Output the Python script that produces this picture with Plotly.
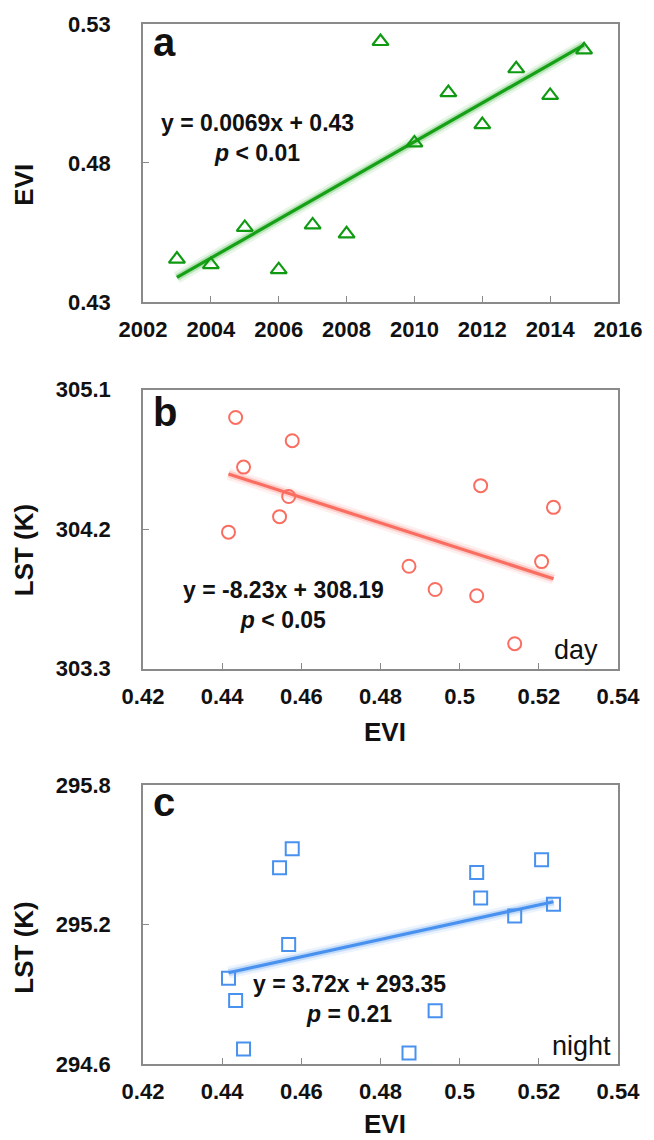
import numpy as np
import plotly.graph_objects as go

# ---------------- data ----------------
years = [2003, 2004, 2005, 2006, 2007, 2008, 2009, 2010, 2011, 2012, 2013, 2014, 2015]
evi = [0.4454, 0.4434, 0.4568, 0.4416, 0.4577, 0.4545, 0.5237, 0.4872, 0.5053, 0.4938, 0.5139, 0.5043, 0.5207]
lst_day = [304.60, 304.92, 304.41, 304.18, 304.77, 304.28, 304.34, 303.96, 304.48, 303.81, 303.46, 303.77, 303.99]
lst_night = [294.664, 294.873, 295.114, 294.969, 295.526, 295.444, 295.287, 294.647, 295.314, 294.829, 295.237, 295.424, 295.479]

day_slope, day_intercept = -8.23, 308.19
night_slope, night_intercept = 3.72, 293.35

eq_a = "y = 0.0069x + 0.43"
p_a = "p &lt; 0.01"
eq_b = "y = -8.23x + 308.19"
p_b = "p &lt; 0.05"
eq_c = "y = 3.72x + 293.35"
p_c = "p = 0.21"

evi_ticks = [0.42, 0.44, 0.46, 0.48, 0.50, 0.52, 0.54]
evi_ticktext = ["0.42", "0.44", "0.46", "0.48", "0.5", "0.52", "0.54"]
year_ticks = [2002, 2004, 2006, 2008, 2010, 2012, 2014, 2016]
a_yticks = [0.43, 0.48, 0.53]
b_yticks = [303.3, 304.2, 305.1]
c_yticks = [294.6, 295.2, 295.8]

# ---------------- layout geometry ----------------
W, H = 654, 1140
ML, MR, MT, MB = 143, 27, 20, 76
PW = W - ML - MR
PH = H - MT - MB


def px(x):
    return (x - ML) / PW


def py(y):
    return (H - MB - y) / PH


dom_a = [py(299), py(20)]
dom_b = [py(667), py(387)]
dom_c = [py(1064), py(784)]

GREEN = "#0f9a12"
SALMON = "#fa6e62"
BLUE = "#4891ee"
AX = "#8a8a8a"
FONT = "Liberation Sans, Arial, sans-serif"

fig = go.Figure()


def add_fit(xs, ys, xref, yref, color, glow):
    for w, op in [(12, 0.10), (7, 0.25)]:
        fig.add_trace(go.Scatter(x=xs, y=ys, mode="lines", xaxis=xref, yaxis=yref,
                                 line=dict(color=glow, width=w), opacity=op,
                                 showlegend=False, hoverinfo="skip"))
    fig.add_trace(go.Scatter(x=xs, y=ys, mode="lines", xaxis=xref, yaxis=yref,
                             line=dict(color=color, width=3.2),
                             showlegend=False, hoverinfo="skip"))


# panel a
ka, ba = np.polyfit(years, evi, 1)
xa = np.array([min(years), max(years)])
add_fit(xa, ka * xa + ba, "x", "y", "#16a016", "#22aa22")
fig.add_trace(go.Scatter(x=years, y=evi, mode="markers", xaxis="x", yaxis="y",
                         marker=dict(symbol="triangle-up-open", size=14, color=GREEN,
                                     line=dict(width=2.2, color=GREEN)),
                         showlegend=False))

# panel b
xb = np.array([min(evi), max(evi)])
add_fit(xb, day_slope * xb + day_intercept, "x2", "y2", SALMON, SALMON)
fig.add_trace(go.Scatter(x=evi, y=lst_day, mode="markers", xaxis="x2", yaxis="y2",
                         marker=dict(symbol="circle-open", size=13, color=SALMON,
                                     line=dict(width=2, color=SALMON)),
                         showlegend=False))

# panel c
add_fit(xb, night_slope * xb + night_intercept, "x3", "y3", BLUE, BLUE)
fig.add_trace(go.Scatter(x=evi, y=lst_night, mode="markers", xaxis="x3", yaxis="y3",
                         marker=dict(symbol="square-open", size=13, color=BLUE,
                                     line=dict(width=2, color=BLUE)),
                         showlegend=False))

tickfont = dict(family=FONT, size=22, color="#111", weight="bold")
common = dict(showline=True, mirror=True, linecolor=AX, linewidth=1.5,
              ticks="inside", ticklen=6, tickcolor=AX, tickwidth=1.2,
              showgrid=False, zeroline=False, tickfont=tickfont)

fig.update_layout(
    width=W, height=H, margin=dict(l=ML, r=MR, t=MT, b=MB),
    paper_bgcolor="white", plot_bgcolor="white",
    xaxis=dict(domain=[0, 1], anchor="y", range=[2002, 2016], tickvals=year_ticks,
               ticklabelstandoff=7, **common),
    yaxis=dict(domain=dom_a, anchor="x", range=[0.43, 0.53], tickvals=a_yticks,
               ticktext=["%.2f" % v for v in a_yticks], ticklabelstandoff=26, **common),
    xaxis2=dict(domain=[0, 1], anchor="y2", range=[0.42, 0.54], tickvals=evi_ticks,
                ticktext=evi_ticktext, ticklabelstandoff=7, **common),
    yaxis2=dict(domain=dom_b, anchor="x2", range=[303.3, 305.1], tickvals=b_yticks,
                ticktext=["%.1f" % v for v in b_yticks], ticklabelstandoff=26, **common),
    xaxis3=dict(domain=[0, 1], anchor="y3", range=[0.42, 0.54], tickvals=evi_ticks,
                ticktext=evi_ticktext, ticklabelstandoff=7, **common),
    yaxis3=dict(domain=dom_c, anchor="x3", range=[294.6, 295.8], tickvals=c_yticks,
                ticktext=["%.1f" % v for v in c_yticks], ticklabelstandoff=26, **common),
)

ann = []


def add_text(text, x, y, size, xanchor="center", yanchor="middle", angle=0, weight="bold"):
    ann.append(dict(text=text, x=px(x), y=py(y), xref="paper", yref="paper",
                    xanchor=xanchor, yanchor=yanchor, showarrow=False, textangle=angle,
                    font=dict(family=FONT, size=size, color="#111", weight=weight)))


# axis titles
add_text("EVI", 22, 181, 26, angle=-90)
add_text("LST (K)", 22, 548, 26, angle=-90)
add_text("LST (K)", 22, 947, 26, angle=-90)
add_text("EVI", 390, 731, 26)
add_text("EVI", 390, 1124, 26)

# panel letters
add_text("a", 151, 38, 40, xanchor="left")
add_text("b", 151, 409, 40, xanchor="left")
add_text("c", 151, 801, 40, xanchor="left")

# equations
add_text(eq_a + "<br><i>" + p_a[0] + "</i>" + p_a[1:], 260, 134, 23)
add_text(eq_b + "<br><i>" + p_b[0] + "</i>" + p_b[1:], 286, 603, 23)
add_text(eq_c + "<br><i>" + p_c[0] + "</i>" + p_c[1:], 353, 999, 23)

# day / night labels
add_text("day", 609, 648, 27, xanchor="right", weight="normal")
add_text("night", 622, 1046, 27, xanchor="right", weight="normal")

fig.update_layout(annotations=ann)

fig.write_html("out.html")
